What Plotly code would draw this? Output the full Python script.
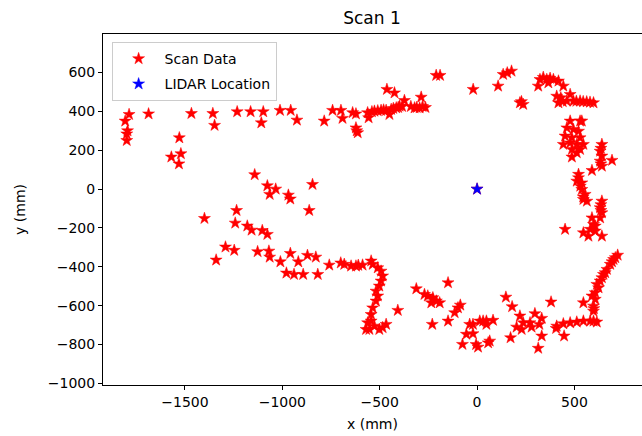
import plotly.graph_objects as go

# Scan data points (mm)
scan_points = [
    (-1807, 350), (-1787, 384), (-1799, 284), (-1799, 250), (-1795, 300),
    (-1687, 387), (-1467, 389), (-1357, 389), (-1348, 328), (-1232, 398), (-1163, 398),
    (-1098, 398), (-1108, 341), (-1012, 405), (-957, 405), (-925, 355),
    (-1529, 264), (-1570, 165), (-1521, 182), (-1531, 130),
    (-1142, 74), (-1077, 17), (-1034, 0), (-1065, -27), (-969, -31), (-959, -51), (-845, 24), (-862, -110),
    (-1400, -151), (-1235, -110), (-1242, -175), (-1180, -190), (-1158, -211), (-1103, -213), (-1077, -233),
    (-1292, -298), (-1247, -315), (-1340, -365), (-1127, -322), (-1069, -319), (-1065, -350), (-1010, -374),
    (-959, -331), (-918, -374), (-871, -341), (-828, -350), (-979, -432), (-940, -439), (-893, -439),
    (-818, -439), (-759, -391),
    (-785, 350), (-742, 405), (-699, 405), (-691, 364), (-639, 393), (-622, 387), (-622, 315), (-613, 290),
    (-618, 300), (-562, 393), (-557, 367), (-527, 401), (-493, 405), (-467, 405), (-441, 410), (-450, 384),
    (-415, 418), (-398, 427), (-463, 513), (-424, 495), (-373, 456), (-321, 418), (-295, 418), (-287, 473),
    (-540, 398), (-510, 403), (-480, 407), (-430, 415), (-405, 420), (-385, 425), (-340, 425), (-310, 420),
    (-280, 425), (-265, 420), (-210, 585), (-190, 585),
    (-20, 513), (108, 530), (134, 590), (155, 598), (177, 607), (220, 444), (237, 436), (228, 450),
    (323, 564), (358, 564), (392, 564), (418, 556), (443, 530), (314, 530), (366, 547), (340, 575), (375, 570),
    (409, 478), (478, 487), (418, 444), (461, 453), (495, 453), (529, 453), (563, 449), (598, 444),
    (440, 450), (510, 452), (545, 450), (580, 447), (430, 470),
    (478, 350), (529, 350), (461, 315), (495, 307), (521, 298), (452, 273), (487, 264), (529, 264),
    (443, 230), (478, 238), (512, 230), (546, 230), (487, 204), (529, 204), (487, 165), (512, 187), (538, 350),
    (641, 230), (632, 195), (641, 170), (632, 144), (641, 118), (693, 148), (590, 96), (636, 210), (636, 130),
    (521, 76), (512, 41), (538, 32), (538, -2), (555, -27), (546, -53), (564, -62), (521, 58), (530, 15), (545, -40),
    (641, -62), (632, -96), (641, -122), (632, -148), (590, -148), (598, -182), (581, -207), (607, -216),
    (546, -225), (572, -242), (641, -242), (452, -207), (607, -190), (636, -80), (636, -110),
    (-682, -387), (-647, -396), (-622, -396), (-588, -391), (-544, -370), (-536, -387), (-510, -405),
    (-493, -422), (-485, -447), (-493, -473), (-502, -499), (-519, -525), (-510, -550), (-519, -576),
    (-536, -611), (-544, -645), (-562, -688), (-553, -722), (-570, -722), (-527, -705), (-502, -722),
    (-467, -696), (-485, -713), (-544, -679), (-700, -380), (-610, -392),
    (-407, -624), (-312, -513), (-270, -542), (-253, -550), (-227, -559), (-209, -576), (-235, -585),
    (-192, -585), (-149, -482), (-230, -696), (-149, -679), (-115, -636), (-98, -611), (-86, -597),
    (-38, -696), (-21, -696), (31, -679), (48, -696), (-55, -747), (-21, -744), (-75, -799), (5, -813),
    (57, -791), (-5, -800),
    (14, -679), (48, -679), (82, -675), (65, -782), (148, -556), (180, -605), (220, -653), (297, -641),
    (332, -665), (272, -688), (237, -688), (203, -710), (229, -722), (280, -710), (320, -696), (172, -765),
    (332, -756), (314, -819), (380, -581), (447, -756), (406, -717),
    (409, -705), (443, -693), (478, -688), (512, -684), (546, -679), (581, -679), (615, -684), (598, -679),
    (546, -585),
    (598, -628), (598, -602), (607, -567), (607, -533), (624, -508), (632, -473), (649, -439), (667, -413),
    (684, -387), (701, -362), (722, -340), (590, -550), (615, -490), (641, -456), (658, -430), (693, -374),
    (710, -353), (600, -615),
    (0, 0),
]
scan_x = [p[0] for p in scan_points]
scan_y = [p[1] for p in scan_points]

lidar_x = [0]
lidar_y = [0]

x_ticks = [-1500, -1000, -500, 0, 500]
y_ticks = [-1000, -800, -600, -400, -200, 0, 200, 400, 600]

FONT = "DejaVu Sans"

fig = go.Figure()
fig.add_trace(go.Scatter(
    x=scan_x, y=scan_y, mode="markers", name="Scan Data", legendgroup="a",
    marker=dict(symbol="star", size=9, color="#ff0000", line=dict(width=0.5, color="#ff0000")),
))
fig.add_trace(go.Scatter(
    x=lidar_x, y=lidar_y, mode="markers", name="LIDAR Location", legendgroup="b",
    marker=dict(symbol="star", size=9, color="#0000ff", line=dict(width=0.5, color="#0000ff")),
))

fig.update_layout(
    width=642, height=436,
    margin=dict(l=103, r=0, t=34, b=51),
    paper_bgcolor="white", plot_bgcolor="white",
    font=dict(family=FONT, size=14, color="#000000"),
    title=dict(text="Scan 1", x=(103 + 641) / 2 / 642, xanchor="center",
               y=1 - 18 / 436, yanchor="middle", font=dict(size=17, family=FONT)),
    showlegend=True,
    legend=dict(
        x=0.016, y=0.977, xanchor="left", yanchor="top",
        bgcolor="rgba(255,255,255,0.8)", bordercolor="#cccccc", borderwidth=1,
        font=dict(size=14, family=FONT), tracegroupgap=4, itemwidth=42,
    ),
    xaxis=dict(
        range=[-1921, 847], tickvals=x_ticks, ticktext=["\u22121500", "\u22121000", "\u2212500", "0", "500"],
        showgrid=False, zeroline=False, showline=True, linecolor="black", linewidth=1, mirror=True,
        ticks="outside", ticklen=4, tickcolor="black",
        title=dict(text="x (mm)", font=dict(size=14), standoff=10),
    ),
    yaxis=dict(
        range=[-1008, 798], tickvals=y_ticks,
        ticktext=["\u22121000", "\u2212800", "\u2212600", "\u2212400", "\u2212200", "0", "200", "400", "600"],
        showgrid=False, zeroline=False, showline=True, linecolor="black", linewidth=1, mirror=True,
        ticks="outside", ticklen=4, tickcolor="black",
        title=dict(text="y (mm)", font=dict(size=14), standoff=18),
    ),
)

fig.write_html("out.html")
